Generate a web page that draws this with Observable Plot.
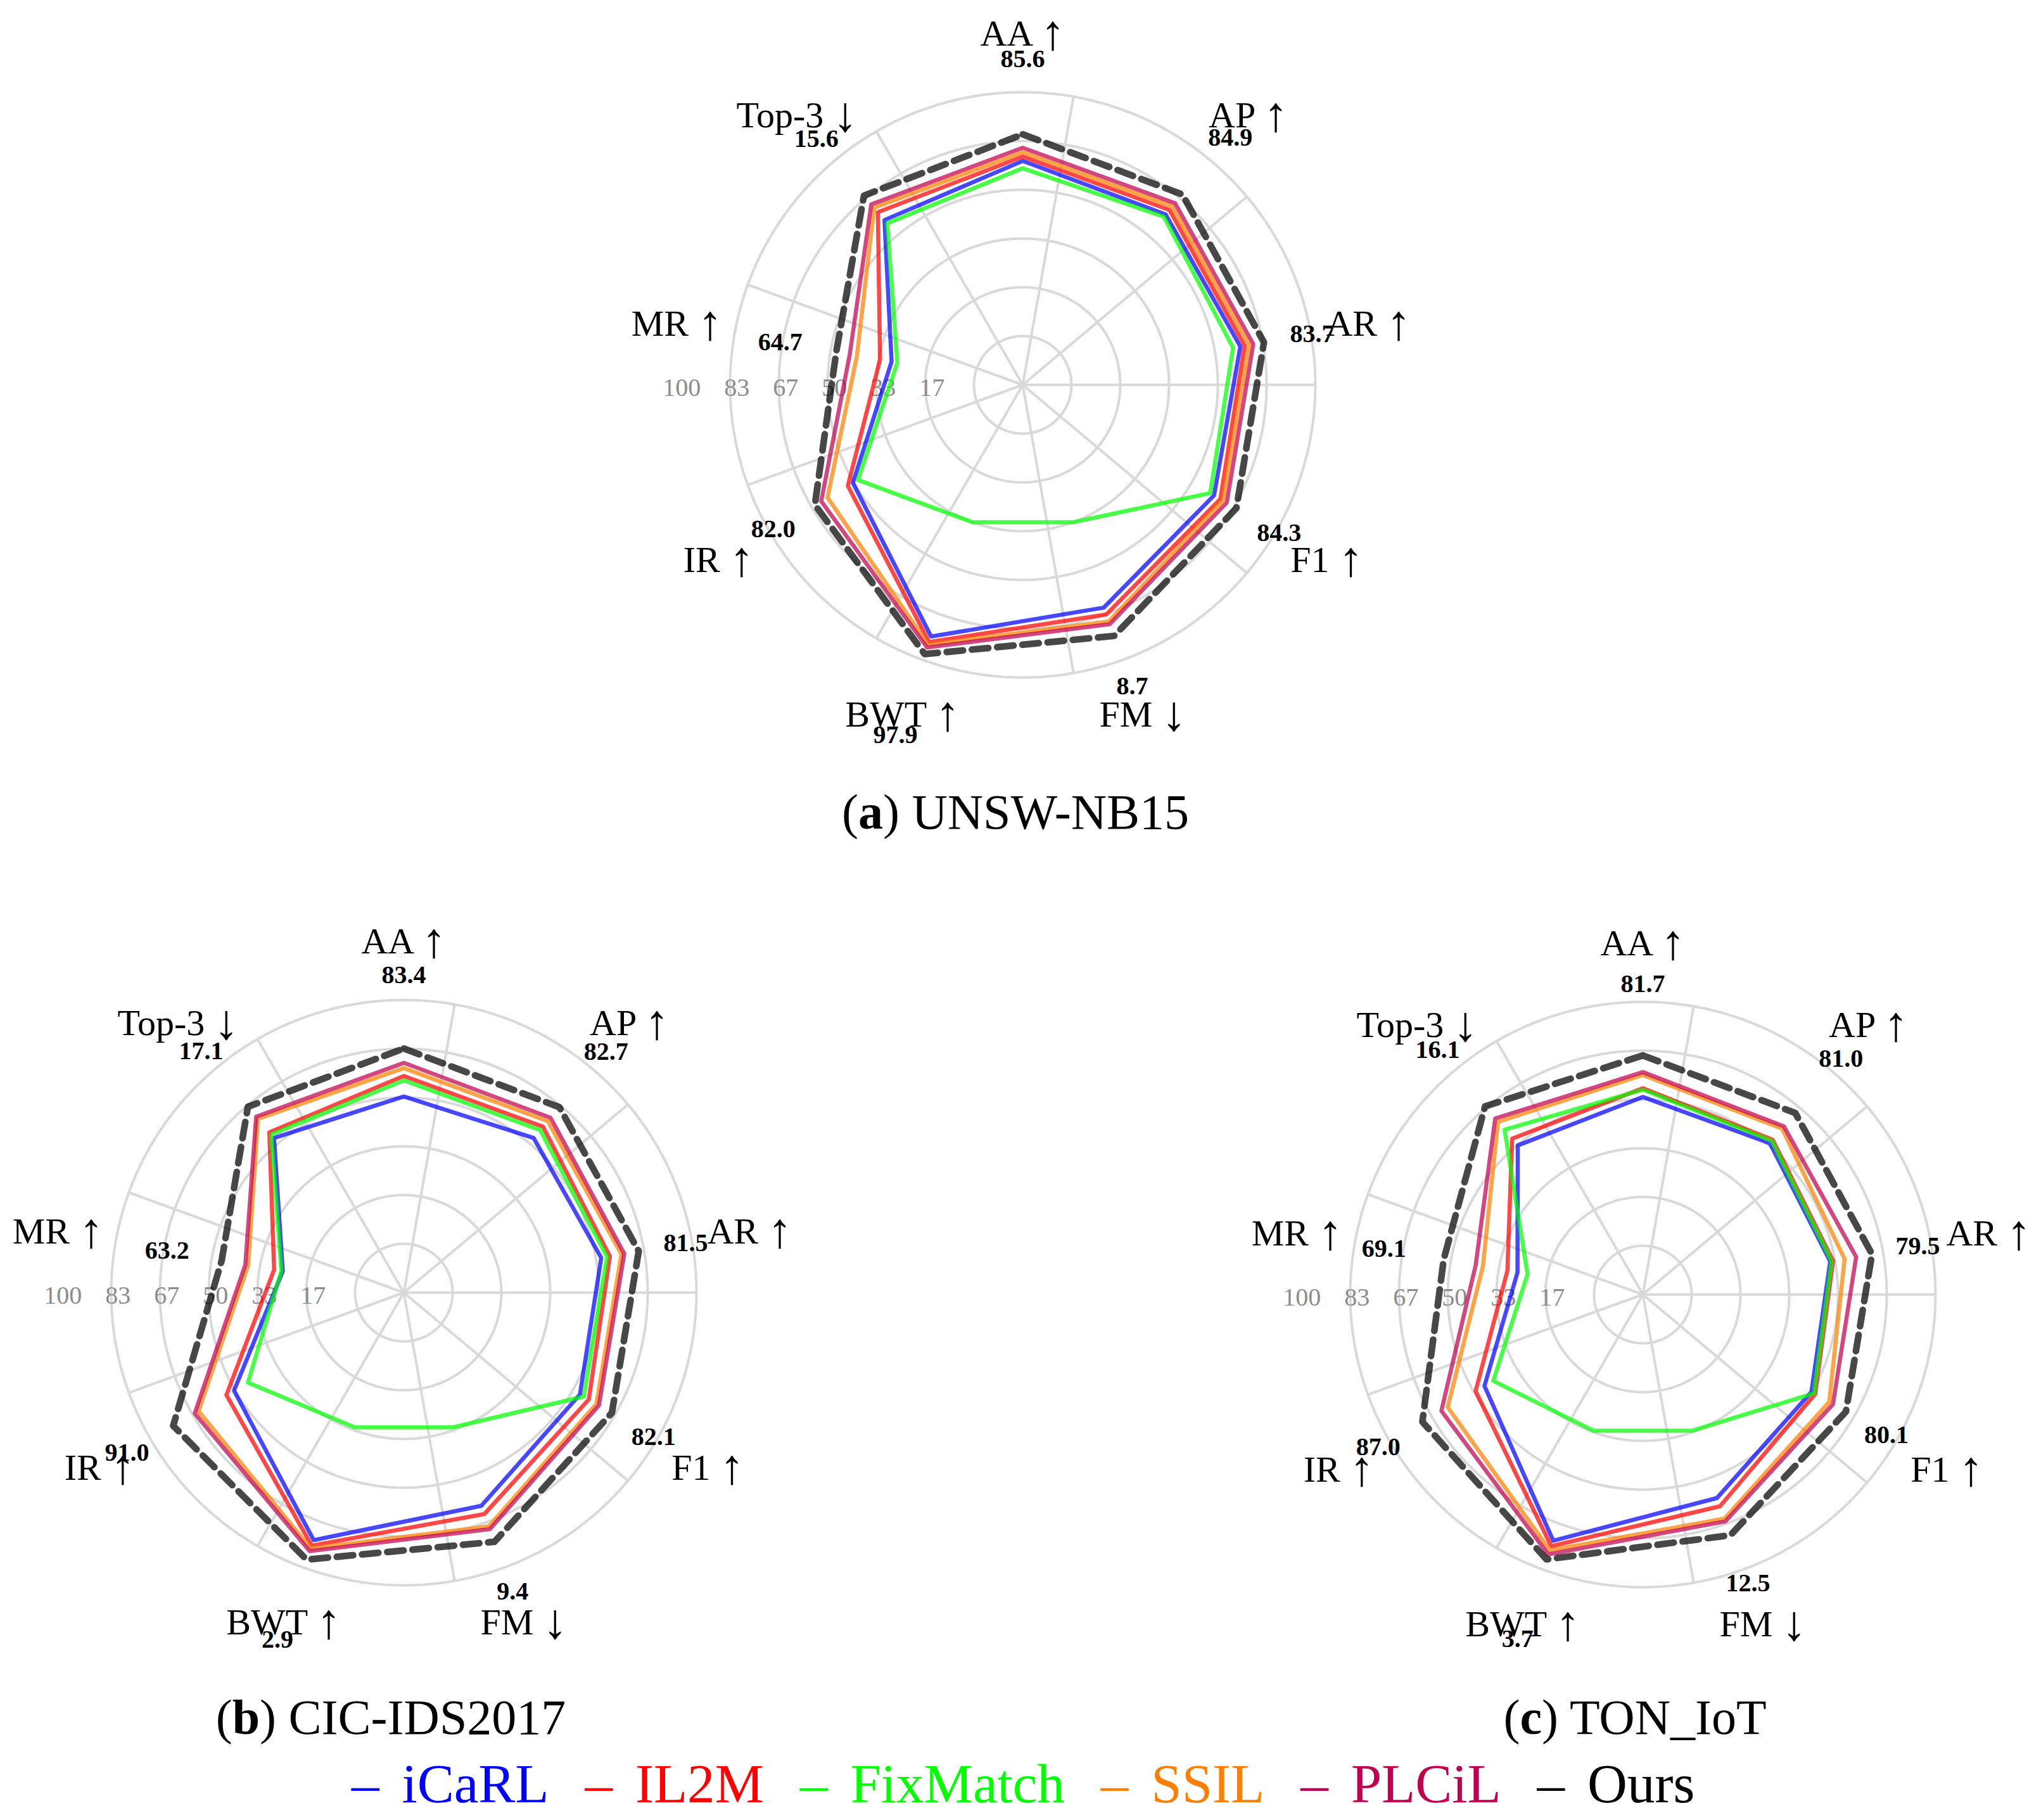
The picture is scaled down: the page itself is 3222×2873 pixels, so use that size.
<!DOCTYPE html>
<html><head><meta charset="utf-8">
<script src="https://cdn.jsdelivr.net/npm/d3@7"></script>
<script src="https://cdn.jsdelivr.net/npm/@observablehq/plot@0.6"></script>
<style>
html,body{margin:0;padding:0;background:#fff;overflow:hidden}
#page{position:relative;width:3222px;height:2873px;font-family:"Liberation Serif","DejaVu Serif",serif;color:#000}
.chart{position:absolute}
.cap{position:absolute;font-size:78px;line-height:78px;white-space:nowrap;transform:translateX(-50%)}
#legend{position:absolute;left:555px;top:2772px;font-size:87px;line-height:87px;white-space:nowrap}
#legend .item{margin-right:57px}
#legend .dash{margin-right:36px}
</style></head>
<body><div id="page">
<div class="chart" id="ca" style="left:989px;top:0px"></div>
<div class="chart" id="cb" style="left:12px;top:1433px"></div>
<div class="chart" id="cc" style="left:1968px;top:1436px"></div>
<div class="cap" style="left:1603px;top:1243px">(<b>a</b>) UNSW-NB15</div>
<div class="cap" style="left:617px;top:2672px">(<b>b</b>) CIC-IDS2017</div>
<div class="cap" style="left:2581px;top:2672px">(<b>c</b>) TON_IoT</div>
<div id="legend"></div>
</div>
<script>
// ---- data ----
const axes = ["AA ↑", "AP ↑", "AR ↑", "F1 ↑", "FM ↓", "BWT ↑", "IR ↑", "MR ↑", "Top-3 ↓"];
const methods = ["iCaRL", "IL2M", "FixMatch", "SSIL", "PLCiL", "Ours"];
const colors = ["#0000ff", "#ff0000", "#00ff00", "#ff8000", "#c0004f", "#000000"];
const ringTicks = [100/6, 200/6, 50, 400/6, 500/6, 100];
const ringLabels = ["17", "33", "50", "67", "83", "100"];

// radial values (0-100) per method, axes order as above
const unswICaRL    = [76.5, 76, 75.5, 75.5, 81, 91.5, 67, 45.5, 73.5];
const unswIL2M     = [78, 78, 77, 78, 83.5, 93.5, 69, 49.5, 77];
const unswFixMatch = [74, 75, 73, 74, 50, 50, 65, 43.5, 72];
const unswSSIL     = [79.5, 79.5, 78.5, 79, 86, 94.5, 77, 57.5, 79];
const unswPLCiL    = [81, 81, 80, 80.5, 87, 95.5, 79.5, 60, 80.5];
const unswOurs     = [85.6, 84.9, 83.7, 84.3, 91.3, 97.9, 82.0, 64.7, 84.4];
const unswLabels   = ["85.6", "84.9", "83.7", "84.3", "8.7", "97.9", "82.0", "64.7", "15.6"];

const cicICaRL    = [67, 69, 68.5, 69.5, 77.5, 90, 67, 42, 69];
const cicIL2M     = [74, 74, 71.5, 73, 80.5, 92, 70, 45, 71.5];
const cicFixMatch = [72.5, 72.5, 70.5, 71, 49, 49, 61.5, 42.5, 70.5];
const cicSSIL     = [76.7, 76.5, 75.5, 76, 85, 93, 81, 54, 77.5];
const cicPLCiL    = [78.5, 78, 76.5, 77, 86, 94, 82.5, 55, 78.5];
const cicOurs     = [83.4, 82.7, 81.5, 82.1, 90.6, 97.1, 91.0, 63.2, 82.9];
const cicLabels   = ["83.4", "82.7", "81.5", "82.1", "9.4", "2.9", "91.0", "63.2", "17.1"];

const tonICaRL    = [67.5, 67.5, 65, 66.5, 74, 89.5, 62.5, 43.5, 66.5];
const tonIL2M     = [70.5, 69, 66, 68, 77, 91.5, 66, 47, 69.5];
const tonFixMatch = [70, 68.5, 65.5, 67.5, 49.5, 49.5, 59, 40, 73.5];
const tonSSIL     = [75, 74, 70, 73.5, 81.5, 93, 77, 55.5, 77];
const tonPLCiL    = [76, 75, 74, 75, 82.5, 94.5, 79.5, 58, 78.5];
const tonOurs     = [81.7, 81.0, 79.5, 80.1, 87.5, 96.3, 87.0, 69.1, 83.9];
const tonLabels   = ["81.7", "81.0", "79.5", "80.1", "12.5", "3.7", "87.0", "69.1", "16.1"];

// ---- layout ----
const PXU = 4.62, W = 1250, H = 1240, CX = 625, CY = 607;
const labelFactor = [1.3, 1.3, 1.2, 1.2, 1.2, 1.3, 1.2, 1.3, 1.3];
const FONT = "'Liberation Serif','DejaVu Serif',serif";
const toRad = d => d * Math.PI / 180;
const px = (v, a) => v * Math.sin(toRad(a));
const py = (v, a) => v * Math.cos(toRad(a));

function radar(values, labels) {
  const axisAngles = axes.map((_, k) => k * 360 / axes.length);
  const spokeAngles = axisAngles.map(a => a + 10);
  const ringRows = ringTicks.flatMap(t => d3.range(0, 361, 2).map(a => ({t, a})));
  const seriesMarks = methods.map((m, i) => {
    const rows = values[i].map((v, k) => ({v, a: axisAngles[k]}));
    const opts = {
      x: d => px(d.v, d.a), y: d => py(d.v, d.a), curve: "linear-closed",
      stroke: colors[i], strokeOpacity: 0.72, strokeWidth: i === 5 ? 10.5 : 6.5
    };
    if (i === 5) opts.strokeDasharray = "26,14";
    return Plot.line(rows, opts);
  });
  const ours = values[5];
  const svg = Plot.plot({
    width: W, height: H, margin: 0,
    x: {domain: [-CX / PXU, (W - CX) / PXU], axis: null},
    y: {domain: [-(H - CY) / PXU, CY / PXU], axis: null},
    style: {fontFamily: FONT, background: "transparent", overflow: "visible"},
    marks: [
      Plot.line(ringRows, {x: d => px(d.t, d.a), y: d => py(d.t, d.a), z: "t", stroke: "#d9d9d9", strokeWidth: 4}),
      Plot.link(spokeAngles, {x1: 0, y1: 0, x2: a => px(100, a), y2: a => py(100, a), stroke: "#d9d9d9", strokeWidth: 4}),
      Plot.text(ringTicks, {x: t => -(t + 10), y: 0, text: (t, i) => ringLabels[i], textAnchor: "end", fill: "#8c8c8c", fontSize: 40, dy: 5}),
      ...seriesMarks,
      Plot.text(axes, {x: (d, k) => px(120, axisAngles[k]), y: (d, k) => py(120, axisAngles[k]), text: d => d, fontSize: 58, fill: "#000"}),
      Plot.text(labels, {x: (d, k) => px(ours[k] * labelFactor[k], axisAngles[k]), y: (d, k) => py(ours[k] * labelFactor[k], axisAngles[k]), text: d => d, fontSize: 40, fontWeight: "bold", fill: "#000"})
    ]
  });
  // enlarge the arrows of the axis names (TeX-like tall arrows)
  svg.querySelectorAll("text").forEach(t => {
    const s = t.textContent;
    const last = s.slice(-1);
    if (last === "↑" || last === "↓") {
      t.textContent = s.slice(0, -1);
      const ts = document.createElementNS("http://www.w3.org/2000/svg", "tspan");
      ts.setAttribute("font-size", "78");
      ts.setAttribute("dy", "6");
      ts.textContent = last;
      t.appendChild(ts);
    }
  });
  return svg;
}

document.getElementById("ca").appendChild(radar([unswICaRL, unswIL2M, unswFixMatch, unswSSIL, unswPLCiL, unswOurs], unswLabels));
document.getElementById("cb").appendChild(radar([cicICaRL, cicIL2M, cicFixMatch, cicSSIL, cicPLCiL, cicOurs], cicLabels));
document.getElementById("cc").appendChild(radar([tonICaRL, tonIL2M, tonFixMatch, tonSSIL, tonPLCiL, tonOurs], tonLabels));

const legend = document.getElementById("legend");
methods.forEach((m, i) => {
  const s = document.createElement("span");
  s.className = "item";
  s.style.color = colors[i];
  s.innerHTML = `<span class="dash">–</span>${m}`;
  if (i === methods.length - 1) s.style.marginRight = "0";
  legend.appendChild(s);
});
</script>
</body></html>
